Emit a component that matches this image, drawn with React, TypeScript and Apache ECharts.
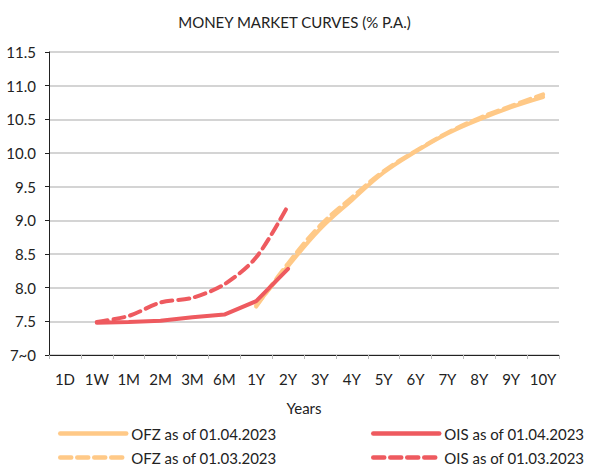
import React, { useEffect, useRef } from "react";
import * as echarts from "echarts";

const categories = ["1D", "1W", "1M", "2M", "3M", "6M", "1Y", "2Y", "3Y", "4Y", "5Y", "6Y", "7Y", "8Y", "9Y", "10Y"];
const ofzApr: (number | null)[] = [null, null, null, null, null, null, 7.74, 8.32, 8.87, 9.3, 9.71, 10.02, 10.29, 10.5, 10.68, 10.83];
const ofzMar: (number | null)[] = [null, null, null, null, null, null, 7.72, 8.36, 8.92, 9.34, 9.73, 10.03, 10.3, 10.52, 10.7, 10.87];
const oisApr: (number | null)[] = [null, 7.48, 7.49, 7.51, 7.56, 7.6, 7.8, 8.28, null, null, null, null, null, null, null, null];
const oisMar: (number | null)[] = [null, 7.49, 7.58, 7.78, 7.85, 8.05, 8.45, 9.22, null, null, null, null, null, null, null, null];

const FONT = "Lato, 'Noto Sans', sans-serif";
const ORANGE = "#FFC987";
const RED = "#EE5A5F";

export default function App() {
  const ref = useRef<HTMLDivElement>(null);
  useEffect(() => {
    const chart = echarts.init(ref.current!, undefined, { renderer: "svg" });
    const dashed = [11, 6];
    const legendCommon = {
      top: 421,
      height: 60,
      orient: "vertical",
      itemGap: 9,
      itemWidth: 66,
      itemHeight: 2,
      lineStyle: { width: 4.5 },
      textStyle: { fontSize: 15, color: "#222", fontFamily: FONT },
    };
    chart.setOption({
      animation: false,
      textStyle: { fontFamily: FONT },
      title: {
        text: "MONEY MARKET CURVES (% P.A.)",
        left: "center",
        top: 9,
        textStyle: { fontSize: 15, fontWeight: "normal", color: "#222", fontFamily: FONT },
      },
      grid: { left: 49, right: 30, top: 52, bottom: 115 },
      legend: [
        { ...legendCommon, left: 53, data: ["OFZ as of 01.04.2023", "OFZ as of 01.03.2023"] },
        { ...legendCommon, left: 366, data: ["OIS as of 01.04.2023", "OIS as of 01.03.2023"] },
      ],
      xAxis: {
        type: "category",
        data: categories,
        boundaryGap: true,
        name: "Years",
        nameLocation: "middle",
        nameGap: 45,
        nameTextStyle: { fontSize: 15, color: "#222", fontFamily: FONT },
        axisLine: { lineStyle: { color: "#222", width: 1 } },
        axisTick: { show: true, length: 4, lineStyle: { color: "#bbb" } },
        axisLabel: { fontSize: 15, color: "#222", margin: 16, interval: 0, fontFamily: FONT },
        splitLine: { show: false },
      },
      yAxis: {
        type: "value",
        min: 7,
        max: 11.5,
        interval: 0.5,
        axisLine: { show: true, lineStyle: { color: "#222", width: 1 } },
        axisTick: { show: true, length: 4, lineStyle: { color: "#222" } },
        axisLabel: {
          fontSize: 15,
          color: "#222",
          margin: 13,
          fontFamily: FONT,
          formatter: (v: number) => (v === 7 ? "7~0" : v.toFixed(1)),
        },
        splitLine: { show: true, lineStyle: { color: "#c6c6c6", width: 1.5 } },
      },
      series: [
        {
          name: "OFZ as of 01.04.2023",
          type: "line",
          data: ofzApr,
          smooth: 0.4,
          symbol: "none",
          lineStyle: { color: ORANGE, width: 4, cap: "round" },
          itemStyle: { color: ORANGE },
          z: 2,
        },
        {
          name: "OFZ as of 01.03.2023",
          type: "line",
          data: ofzMar,
          smooth: 0.4,
          symbol: "none",
          lineStyle: { color: ORANGE, width: 4, type: dashed, cap: "round" },
          itemStyle: { color: ORANGE },
          z: 2,
        },
        {
          name: "OIS as of 01.04.2023",
          type: "line",
          data: oisApr,
          symbol: "none",
          lineStyle: { color: RED, width: 4, cap: "round" },
          itemStyle: { color: RED },
          z: 3,
        },
        {
          name: "OIS as of 01.03.2023",
          type: "line",
          data: oisMar,
          smooth: 0.3,
          symbol: "none",
          lineStyle: { color: RED, width: 4, type: dashed, cap: "round" },
          itemStyle: { color: RED },
          z: 3,
        },
      ],
    });
    return () => chart.dispose();
  }, []);
  return <div ref={ref} style={{ position: "absolute", left: 0, top: 0, width: 589, height: 470 }} />;
}
